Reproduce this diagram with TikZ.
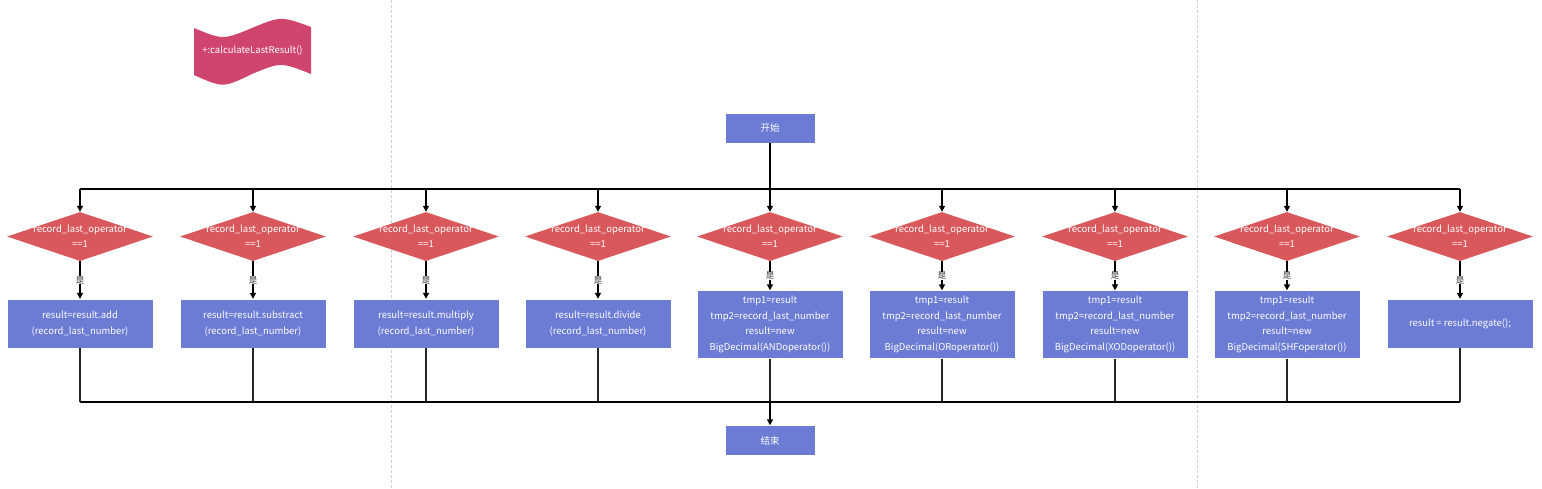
\documentclass[tikz,border=0pt]{standalone}
\usepackage{fontspec}
\setmainfont{Noto Sans CJK SC}
\usetikzlibrary{shapes.geometric,arrows.meta}
\definecolor{boxblue}{HTML}{6C7BD4}
\definecolor{diared}{HTML}{D9585C}
\definecolor{tapepink}{HTML}{CF456E}
\definecolor{sepgray}{HTML}{D0D0D0}
\tikzset{
  procbox/.style={rectangle, fill=boxblue, draw=white, line width=0.4pt, minimum width=146, minimum height=49, inner sep=0pt, align=center, text=white, font=\fontsize{9.5}{15.5}\selectfont},
  tallbox/.style={procbox, minimum height=68},
  termbox/.style={procbox, minimum width=90, minimum height=30},
  dia/.style={diamond, fill=diared, minimum width=146, minimum height=49, inner sep=0pt, aspect=3},
  diatext/.style={align=center, text=white, inner sep=0pt, font=\fontsize{9.5}{15}\selectfont},
  busline/.style={line width=1.8pt, black},
  arr/.style={line width=1.3pt, -{Triangle[width=6pt,length=6pt]}},
  colline/.style={line width=1.2pt, black!85},
  yeslab/.style={fill=white, inner sep=0.5pt, font=\fontsize{8.5}{9}\selectfont, text=black!80},
  sep/.style={sepgray, line width=0.8pt, dash pattern=on 3pt off 2pt},
}
\begin{document}
\begin{tikzpicture}[x=1pt,y=-1pt]
\useasboundingbox (0,0) rectangle (1542,488);
% separators
\draw[sep] (391,0) -- (391,488);
\draw[sep] (1197,0) -- (1197,488);
% tape shape
\coordinate (tc) at (252.5,51);
\fill[tapepink] (194,28) .. controls (223,40) .. (252,28) .. controls (281,16) .. (311,27)
  -- (311,74) .. controls (281,62) .. (252,74) .. controls (223,88) .. (194,75) -- cycle;
\node[text=white, font=\fontsize{9.5}{10}\selectfont, inner sep=0pt] (title) at (tc) {+:calculateLastResult()};
% start/end
\node[termbox] (start) at (770,128) {开始};
\node[termbox] (end) at (770,440.5) {结束};
\coordinate (topbus) at (0,189);
\coordinate (botbus) at (0,402);
% diamonds
\foreach \i/\x in {1/80,2/253,3/426,4/598,5/770,6/942,7/1115,8/1287,9/1460}{
  \node[dia] (d\i) at (\x,236.5) {};
  \node[diatext] (dt\i) at (d\i) {record\_last\_operator\\==1};
}
% process boxes
\node[procbox] (r1) at (80,323.5) {result=result.add\\(record\_last\_number)};
\node[procbox] (r2) at (253,323.5) {result=result.substract\\(record\_last\_number)};
\node[procbox] (r3) at (426,323.5) {result=result.multiply\\(record\_last\_number)};
\node[procbox] (r4) at (598,323.5) {result=result.divide\\(record\_last\_number)};
\node[tallbox] (r5) at (770,324.5) {tmp1=result\\tmp2=record\_last\_number\\result=new\\BigDecimal(ANDoperator())};
\node[tallbox] (r6) at (942,324.5) {tmp1=result\\tmp2=record\_last\_number\\result=new\\BigDecimal(ORoperator())};
\node[tallbox] (r7) at (1115,324.5) {tmp1=result\\tmp2=record\_last\_number\\result=new\\BigDecimal(XODoperator())};
\node[tallbox] (r8) at (1287,324.5) {tmp1=result\\tmp2=record\_last\_number\\result=new\\BigDecimal(SHFoperator())};
\node[procbox] (r9) at (1460,323.5) {result = result.negate();};
% connectors
\foreach \i in {1,...,9}{
  \draw[colline] (r\i.south) -- (r\i.south |- botbus);
}
\draw[busline] (d1.north |- topbus) -- (d9.north |- topbus);
\draw[busline] (r1.south |- botbus) -- (r9.south |- botbus);
\draw[busline] (start.south) -- (start.south |- topbus);
\foreach \i in {1,...,9}{
  \draw[arr] (d\i.north |- topbus) -- (d\i.north);
  \draw[arr] (d\i.south) -- node[yeslab] {是} (r\i.north);
}
\draw[arr, line width=1.8pt] (start.south |- botbus) -- (end.north);
\end{tikzpicture}
\end{document}
